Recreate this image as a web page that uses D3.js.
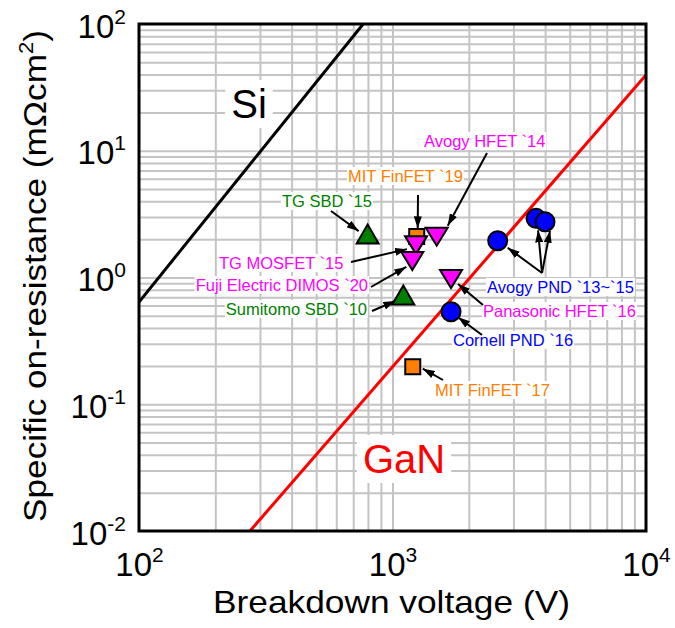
<!DOCTYPE html>
<html>
<head>
<meta charset="utf-8">
<script src="https://cdn.jsdelivr.net/npm/d3@7"></script>
<style>
  body { margin: 0; background: #fff; }
  svg text { font-family: "Liberation Sans", Arial, Helvetica, sans-serif; }
</style>
</head>
<body>
<div id="chart"></div>
<script>
// devices: breakdown voltage (V) vs specific on-resistance (mOhm cm2)
var deviceNames = ["TG SBD `15", "MIT FinFET `19", "Avogy HFET `14", "TG MOSFET `15", "Fuji Electric DIMOS `20",
    "Panasonic HFET `16", "Sumitomo SBD `10", "Cornell PND `16", "Avogy PND a", "Avogy PND b", "Avogy PND c", "MIT FinFET `17"];
var deviceKinds = ["sbd", "finfet", "hfet", "hfet", "hfet", "hfet", "sbd", "pnd", "pnd", "pnd", "pnd", "finfet"];
var voltages    = [798, 1246, 1494, 1238, 1197, 1702, 1103, 1702, 2600, 3683, 3997, 1202];
var resistances = [2.20, 2.11, 2.10, 1.80, 1.35, 0.973, 0.728, 0.537, 1.95, 2.93, 2.75, 0.198];

// material limit lines (two end points each)
var siVoltages  = [100, 766];
var siRes       = [0.64, 100];
var ganVoltages = [274, 10000];
var ganRes      = [0.01, 39.6];

// annotations
var annotLabels  = ["Avogy HFET `14", "MIT FinFET `19", "TG SBD `15", "TG MOSFET `15", "Fuji Electric DIMOS `20",
    "Sumitomo SBD `10", "Avogy PND `13~`15", "Panasonic HFET `16", "Cornell PND `16", "MIT FinFET `17"];
var annotTargets = [[2], [1], [0], [3], [4], [6], [8, 9, 10], [5], [7], [11]];
var annotKinds   = ["hfet", "finfet", "sbd", "hfet", "hfet", "sbd", "pnd", "hfet", "pnd", "finfet"];

var xTickExps = [2, 3, 4];
var yTickExps = [-2, -1, 0, 1, 2];

var kindColor = { sbd: "#008000", hfet: "#ff00ff", pnd: "#0000ff", finfet: "#ff8000" };
var kindShape = { sbd: "up", hfet: "down", pnd: "circle", finfet: "square" };

// label placement (px): text x, baseline, anchor, arrow tail, arrow tip offsets from marker
var annotLayout = [
    { tx: 424, ty: 147, anchor: "start", tail: [487, 153], tips: [[11, -11]] },
    { tx: 348, ty: 182, anchor: "start", tail: [418, 195], tips: [[1, -8]] },
    { tx: 282, ty: 207, anchor: "start", tail: [331, 211], tips: [[-9, -3]] },
    { tx: 219, ty: 269, anchor: "start", tail: [351, 262], tips: [[-9, 4]] },
    { tx: 368, ty: 291, anchor: "end",   tail: [371, 287], tips: [[-6, 6]] },
    { tx: 367, ty: 315, anchor: "end",   tail: [372, 311], tips: [[-8, 6]] },
    { tx: 487, ty: 293, anchor: "start", tail: [542, 273], tips: [[10, 7], [2, 12], [5, 9]] },
    { tx: 483, ty: 317, anchor: "start", tail: [483, 305], tips: [[7, 5]] },
    { tx: 453, ty: 346, anchor: "start", tail: [482, 335], tips: [[7, 5.5]] },
    { tx: 435, ty: 396, anchor: "start", tail: [443, 380], tips: [[10, 2]] }
];

var W = 675, H = 628;
var plot = { left: 139, right: 646, top: 24, bottom: 531 };

var svg = d3.select("#chart").append("svg")
    .attr("width", W).attr("height", H);

var x = d3.scaleLog().domain([100, 10000]).range([plot.left, plot.right]);
var y = d3.scaleLog().domain([0.01, 100]).range([plot.bottom, plot.top]);

var defs = svg.append("defs");
defs.append("clipPath").attr("id", "clip")
    .append("rect")
    .attr("x", plot.left).attr("y", plot.top)
    .attr("width", plot.right - plot.left).attr("height", plot.bottom - plot.top);
defs.append("marker")
    .attr("id", "ah")
    .attr("viewBox", "0 0 12 8")
    .attr("refX", 12).attr("refY", 4)
    .attr("markerWidth", 12).attr("markerHeight", 8)
    .attr("markerUnits", "userSpaceOnUse")
    .attr("orient", "auto")
    .append("path").attr("d", "M0,0L12,4L0,8Z").attr("fill", "#000");

// grid (every 1..9 x decade)
function minorValues(lo, hi) {
    var vals = [];
    for (var e = lo; e < hi; e++) {
        for (var m = 1; m < 10; m++) vals.push(m * Math.pow(10, e));
    }
    return vals.filter(function(v, i) { return i > 0; });
}

var gx = svg.append("g")
    .attr("class", "grid")
    .attr("transform", "translate(0," + plot.bottom + ")")
    .call(d3.axisBottom(x).tickValues(minorValues(2, 4)).tickSize(-(plot.bottom - plot.top)).tickFormat(""));
var gy = svg.append("g")
    .attr("class", "grid")
    .attr("transform", "translate(" + plot.left + ",0)")
    .call(d3.axisLeft(y).tickValues(minorValues(-2, 2)).tickSize(-(plot.right - plot.left)).tickFormat(""));
svg.selectAll(".grid .domain").remove();
svg.selectAll(".grid line").attr("stroke", "#c4c4c4").attr("stroke-width", 2);

// white box behind a text element
function boxBehind(textSel, padX, padY) {
    textSel.each(function() {
        var bb = this.getBBox();
        d3.select(this.parentNode).insert("rect", function() { return this; }.bind(this))
            .attr("x", bb.x - padX).attr("y", bb.y - padY)
            .attr("width", bb.width + 2 * padX).attr("height", bb.height + 2 * padY)
            .attr("fill", "#fff");
    });
}

// Si / GaN names
var names = svg.append("g");
var siText = names.append("text")
    .attr("x", 249).attr("y", 118)
    .attr("text-anchor", "middle")
    .style("font-size", "40px")
    .attr("fill", "#000")
    .text("Si");
var ganText = names.append("text")
    .attr("x", 404).attr("y", 473)
    .attr("text-anchor", "middle")
    .style("font-size", "40px")
    .attr("fill", "#ff0000")
    .text("GaN");
boxBehind(siText, 6, 2);
boxBehind(ganText, 6, 2);

// limit lines
var line = d3.line()
    .x(function(d) { return x(d[0]); })
    .y(function(d) { return y(d[1]); });

var lines = svg.append("g").attr("clip-path", "url(#clip)");
lines.append("path")
    .datum(d3.zip(siVoltages, siRes))
    .attr("d", line)
    .attr("fill", "none").attr("stroke", "#000").attr("stroke-width", 3);
lines.append("path")
    .datum(d3.zip(ganVoltages, ganRes))
    .attr("d", line)
    .attr("fill", "none").attr("stroke", "#ff0000").attr("stroke-width", 3);

// annotation labels
var annot = svg.append("g");
annotLabels.forEach(function(lab, i) {
    var L = annotLayout[i];
    var t = annot.append("text")
        .attr("x", L.tx).attr("y", L.ty)
        .attr("text-anchor", L.anchor)
        .style("font-size", "16.5px")
        .attr("fill", kindColor[annotKinds[i]])
        .text(lab);
    boxBehind(t, 1, 0);
});

// arrows
annotTargets.forEach(function(targets, i) {
    var L = annotLayout[i];
    targets.forEach(function(k, j) {
        annot.append("line")
            .attr("x1", L.tail[0]).attr("y1", L.tail[1])
            .attr("x2", x(voltages[k]) + L.tips[j][0])
            .attr("y2", y(resistances[k]) + L.tips[j][1])
            .attr("stroke", "#000").attr("stroke-width", 2)
            .attr("marker-end", "url(#ah)");
    });
});

// markers
function shapePath(kind) {
    var s = kindShape[kind];
    if (s === "up") return "M0,-9.5L11,9.5L-11,9.5Z";
    if (s === "down") return "M-11,-9L11,-9L0,9Z";
    if (s === "square") return "M-7.5,-7.5H7.5V7.5H-7.5Z";
    return d3.symbol().type(d3.symbolCircle).size(Math.PI * 9.5 * 9.5)();
}

svg.append("g").selectAll("path")
    .data(d3.range(voltages.length))
    .enter().append("path")
    .attr("transform", function(i) { return "translate(" + x(voltages[i]) + "," + y(resistances[i]) + ")"; })
    .attr("d", function(i) { return shapePath(deviceKinds[i]); })
    .attr("fill", function(i) { return kindColor[deviceKinds[i]]; })
    .attr("stroke", "#000")
    .attr("stroke-width", 2)
    .attr("stroke-linejoin", "miter");

// frame
svg.append("rect")
    .attr("x", plot.left).attr("y", plot.top)
    .attr("width", plot.right - plot.left).attr("height", plot.bottom - plot.top)
    .attr("fill", "none").attr("stroke", "#000").attr("stroke-width", 3);

// power-of-ten tick labels
function powLabel(text, exp) {
    text.text(null);
    text.append("tspan").style("font-size", "33px").text("10");
    text.append("tspan").style("font-size", "21px").attr("dy", -14).text(exp);
}

var xAxis = svg.append("g")
    .attr("transform", "translate(0," + plot.bottom + ")")
    .call(d3.axisBottom(x).tickValues(xTickExps.map(function(e) { return Math.pow(10, e); })).tickSize(0));
xAxis.select(".domain").remove();
xAxis.selectAll(".tick text")
    .attr("y", 45).attr("dy", null)
    .attr("fill", "#000")
    .attr("text-anchor", "middle")
    .each(function(d) { powLabel(d3.select(this), Math.round(Math.log10(d))); });

var yAxis = svg.append("g")
    .attr("transform", "translate(" + plot.left + ",0)")
    .call(d3.axisLeft(y).tickValues(yTickExps.map(function(e) { return Math.pow(10, e); })).tickSize(0));
yAxis.select(".domain").remove();
yAxis.selectAll(".tick text")
    .attr("x", -13).attr("y", 13).attr("dy", null)
    .attr("fill", "#000")
    .attr("text-anchor", "end")
    .each(function(d) { powLabel(d3.select(this), Math.round(Math.log10(d))); });

// axis titles, stretched to the widths in the figure
var xTitle = svg.append("text")
    .attr("text-anchor", "middle")
    .style("font-size", "32px")
    .text("Breakdown voltage (V)");
var xs = 357 / xTitle.node().getComputedTextLength();
xTitle.attr("transform", "translate(391.5,613) scale(" + xs + ",1)");

var yTitle = svg.append("text")
    .attr("text-anchor", "middle")
    .style("font-size", "32px");
yTitle.append("tspan").text("Specific on-resistance (m\u03A9cm");
yTitle.append("tspan").style("font-size", "20px").attr("dy", -13).text("2");
yTitle.append("tspan").attr("dy", 13).text(")");
var ys = 492 / yTitle.node().getComputedTextLength();
yTitle.attr("transform", "translate(46,276) rotate(-90) scale(" + ys + ",1)");
</script>
</body>
</html>
